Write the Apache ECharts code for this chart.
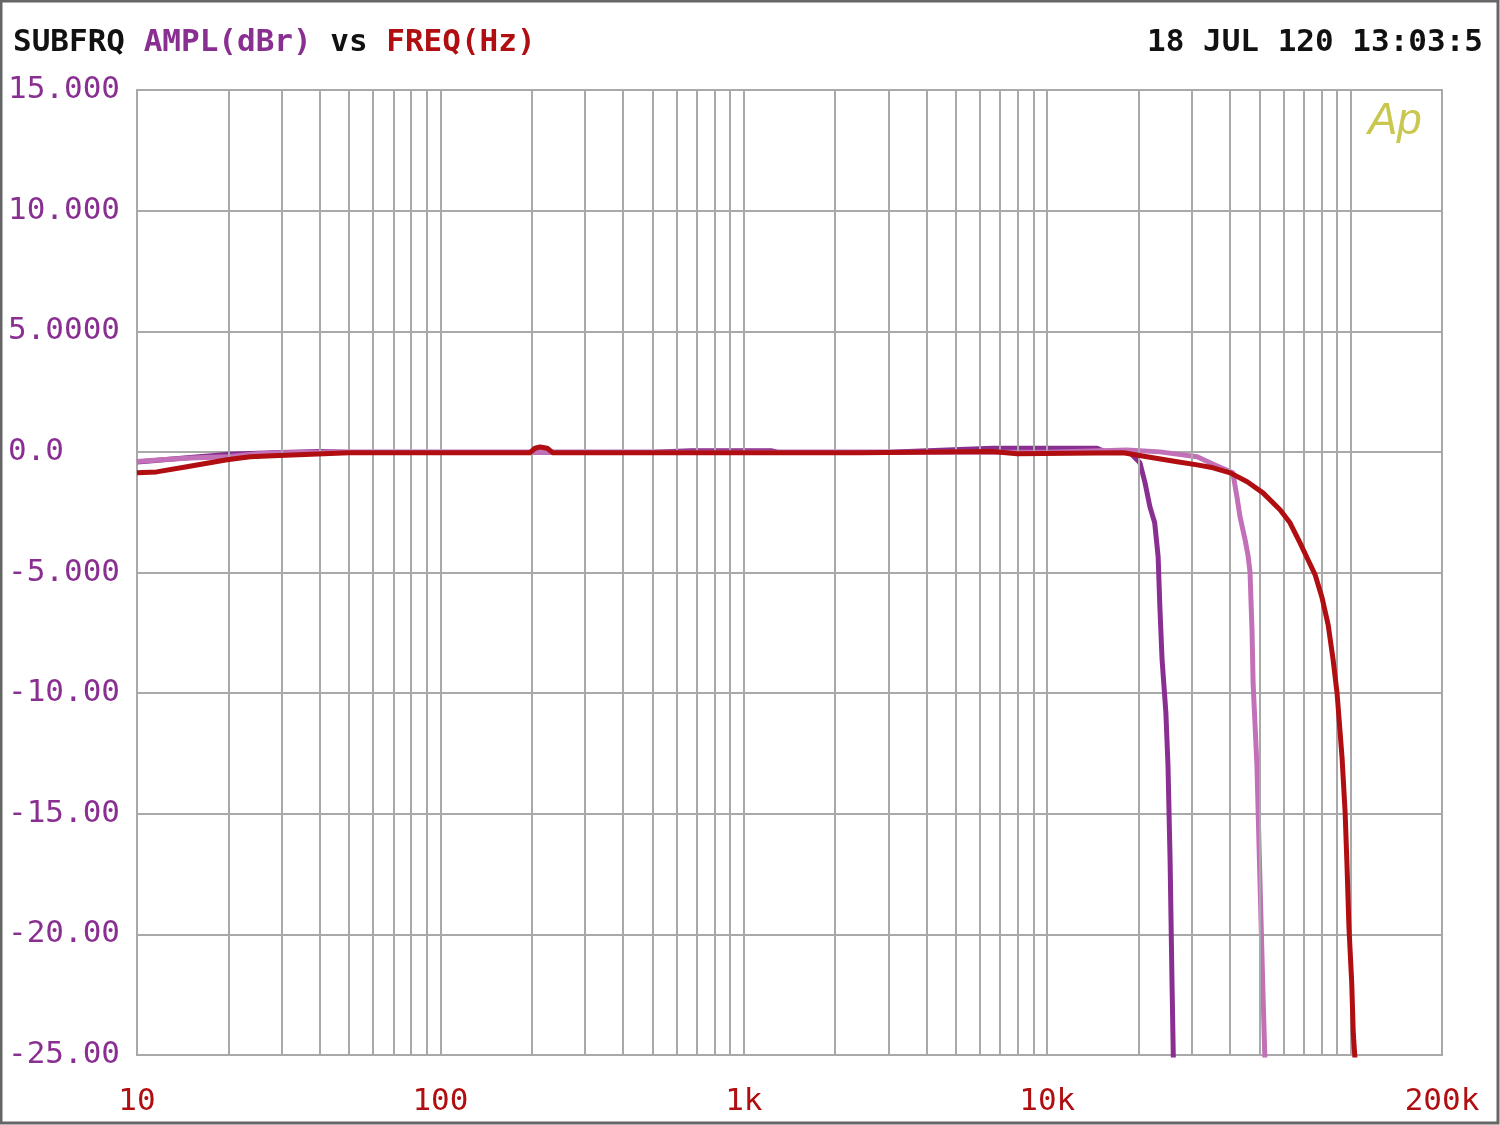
<!DOCTYPE html>
<html>
<head>
<meta charset="utf-8">
<script src="https://cdn.jsdelivr.net/npm/echarts@6/dist/echarts.min.js"></script>
<style>html,body{margin:0;padding:0;background:#fff}#c{width:1500px;height:1125px}</style>
</head>
<body>
<div id="c"></div>
<script>
// ---- data (frequency in Hz, amplitude in dBr) ----
const freqA = [10,11,12,14,16,18,20,25,30,40,50,100,200,300,500,670,1230,1300,3000,6600,14600,15500,17500,18750,20200,21000,21800,22600,23200,23500,23900,24600,25000,25400,25800,26050];
const amplA = [-0.42,-0.38,-0.34,-0.26,-0.2,-0.15,-0.1,-0.06,-0.03,0.02,-0.02,-0.02,-0.02,-0.02,-0.02,0.05,0.05,-0.02,-0.02,0.15,0.15,0.0,0.02,-0.04,-0.45,-1.28,-2.28,-2.94,-4.35,-6.4,-8.6,-10.8,-13.0,-16.9,-22.3,-25.3];

const freqB = [10,12,15,20,22,25,30,40,100,1000,10000,18300,23500,31200,35700,40900,42200,43200,44900,45900,46600,47300,47700,49100,50200,51400,52200];
const amplB = [-0.4,-0.33,-0.25,-0.2,-0.15,-0.08,-0.04,-0.02,-0.02,-0.02,-0.02,0.08,0.0,-0.2,-0.54,-0.87,-1.87,-2.7,-3.65,-4.3,-5.0,-7.4,-9.6,-13.0,-17.6,-22.4,-25.3];

const freqC = [10,11.6,14.6,19.8,23.6,28.1,50,197,205,213,225,235,2430,2450,6580,7950,17800,21300,26800,31200,35200,40100,45600,51400,58500,63100,68100,72400,76400,80500,84300,87500,90200,93700,95900,97300,98700,100800,102000,103500];
const amplC = [-0.87,-0.83,-0.62,-0.33,-0.2,-0.16,-0.04,-0.04,0.15,0.2,0.15,-0.04,-0.04,0.02,0.02,-0.08,-0.04,-0.2,-0.41,-0.54,-0.66,-0.87,-1.24,-1.7,-2.4,-2.94,-3.77,-4.48,-5.1,-6.05,-7.17,-8.6,-10.0,-12.7,-14.96,-17.2,-19.7,-22.0,-24.1,-25.3];

const yTickValues = [15,10,5,0,-5,-10,-15,-20,-25];
const yTickLabels = ['15.000','10.000','5.0000','0.0','-5.000','-10.00','-15.00','-20.00','-25.00'];
const xTickValues = [10,100,1000,10000,200000];
const xTickLabels = ['10','100','1k','10k','200k'];
const xGridValues = [20,30,40,50,60,70,80,90,100,200,300,400,500,600,700,800,900,1000,2000,3000,4000,5000,6000,7000,8000,9000,10000,20000,30000,40000,50000,60000,70000,80000,90000,100000];

const pair = (f, a) => f.map((v, i) => [v, a[i]]);
const MONO = '"DejaVu Sans Mono", monospace';
const PURPLE = '#8A2F92';
const PINK = '#C271B8';
const RED = '#B00E10';
const GRIDC = '#A9A9A9';

const chart = echarts.init(document.getElementById('c'), null, {renderer: 'canvas'});
chart.setOption({
  animation: false,
  backgroundColor: '#fff',
  title: [
    {
      left: 8, top: 22,
      text: '{k|SUBFRQ }{p|AMPL(dBr)}{k| vs }{r|FREQ(Hz)}',
      textStyle: {
        rich: {
          k: {color: '#111', fontFamily: MONO, fontSize: 31, fontWeight: 'bold'},
          p: {color: PURPLE, fontFamily: MONO, fontSize: 31, fontWeight: 'bold'},
          r: {color: RED, fontFamily: MONO, fontSize: 31, fontWeight: 'bold'}
        }
      }
    },
    {
      right: 12, top: 22,
      text: '18 JUL 120 13:03:5',
      textStyle: {color: '#111', fontFamily: MONO, fontSize: 31, fontWeight: 'bold'}
    }
  ],
  grid: {left: 137, right: 58, top: 90, height: 965, show: true, borderColor: GRIDC, borderWidth: 2, backgroundColor: 'transparent'},
  xAxis: {
    type: 'log', logBase: 10, min: 10, max: 200000,
    axisLine: {show: false}, axisTick: {show: false},
    splitLine: {show: false},
    axisLabel: {
      color: RED, fontFamily: MONO, fontSize: 31, margin: 31,
      showMinLabel: true, showMaxLabel: true, hideOverlap: false,
      formatter: v => {
        for (let i = 0; i < xTickValues.length; i++) {
          if (Math.abs(v - xTickValues[i]) / xTickValues[i] < 1e-6) return xTickLabels[i];
        }
        return '';
      }
    }
  },
  yAxis: {
    type: 'value', min: -25, max: 15, interval: 5,
    axisLine: {show: false}, axisTick: {show: false},
    splitLine: {show: true, lineStyle: {color: GRIDC, width: 2}},
    axisLabel: {
      color: PURPLE, fontFamily: MONO, fontSize: 31, align: 'left', margin: 129,
      formatter: v => {
        const i = yTickValues.indexOf(v);
        return i >= 0 ? yTickLabels[i] : '';
      }
    }
  },
  series: [
    {
      type: 'line', data: [], z: 1, silent: true,
      markLine: {
        silent: true, symbol: 'none', animation: false,
        label: {show: false},
        lineStyle: {color: GRIDC, width: 2, type: 'solid'},
        emphasis: {disabled: true},
        data: xGridValues.map(v => ({xAxis: v}))
      }
    },
    {type: 'line', data: pair(freqA, amplA), showSymbol: false, z: 3, lineStyle: {color: PURPLE, width: 5, join: 'round'}, itemStyle: {color: PURPLE}},
    {type: 'line', data: pair(freqB, amplB), showSymbol: false, z: 4, lineStyle: {color: PINK, width: 5, join: 'round'}, itemStyle: {color: PINK}},
    {type: 'line', data: pair(freqC, amplC), showSymbol: false, z: 5, lineStyle: {color: RED, width: 5, join: 'round'}, itemStyle: {color: RED}}
  ],
  graphic: [
    {type: 'rect', silent: true, shape: {x: 1, y: 1, width: 1497, height: 1122}, style: {fill: 'none', stroke: '#666', lineWidth: 3}},
    {type: 'text', silent: true, x: 1368, y: 100, style: {text: 'Ap', font: 'italic 44px "Liberation Sans"', fill: '#C9C74E'}}
  ]
});
</script>
</body>
</html>
